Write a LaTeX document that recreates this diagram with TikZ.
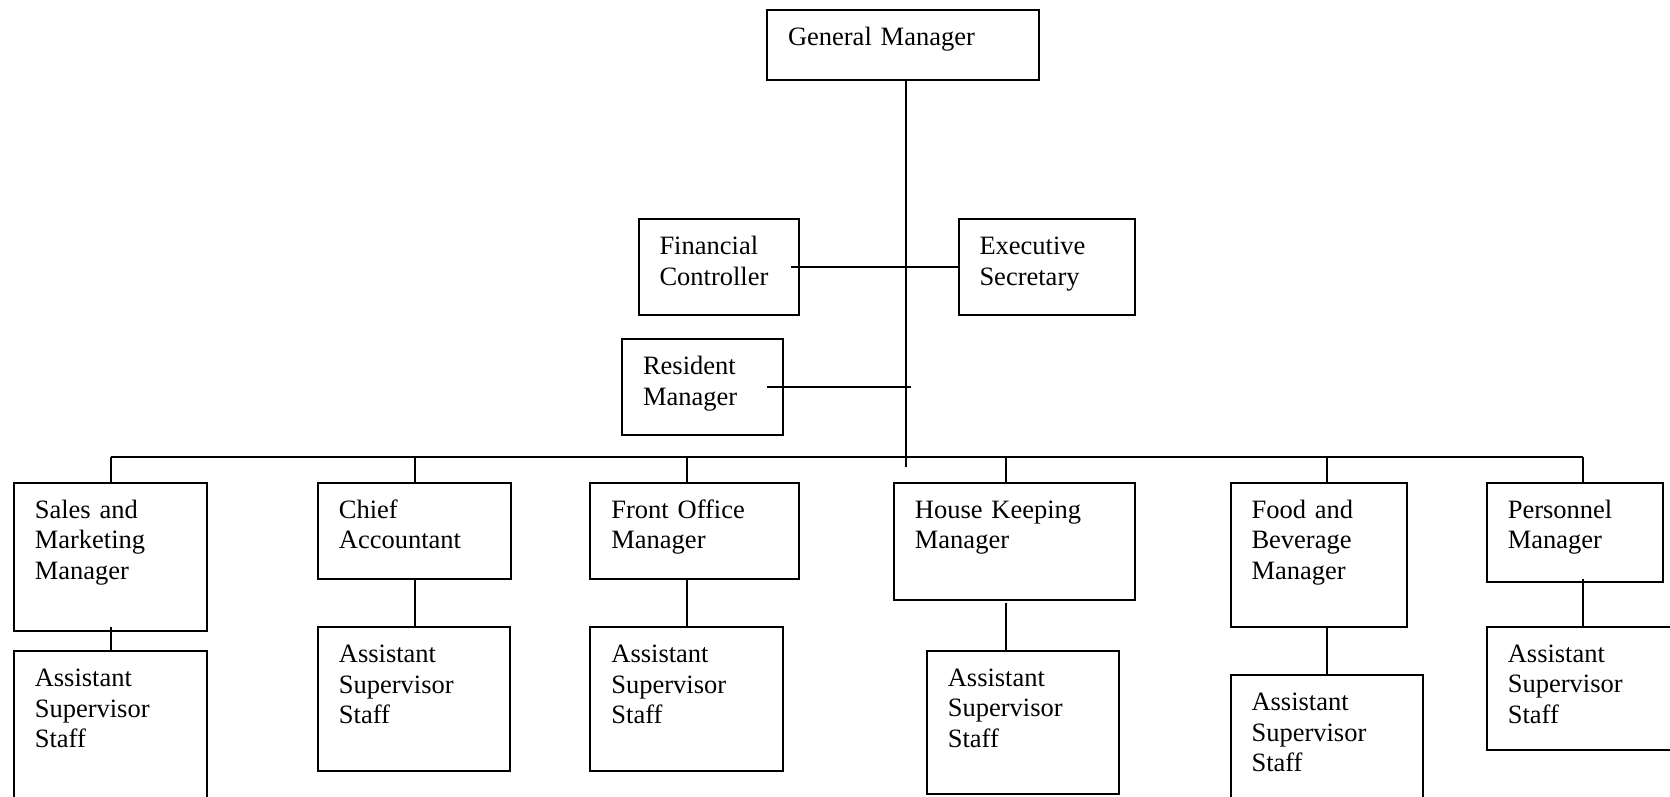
\documentclass[tikz,border=0pt]{standalone}
\usepackage{fontspec}
\setmainfont{Liberation Serif}
\begin{document}
\begin{tikzpicture}[x=1pt,y=-1pt,
  box/.style={draw, line width=2pt, anchor=north west, inner sep=0pt, outer sep=0pt},
  txt/.style={anchor=base west, inner sep=0pt, outer sep=0pt, text width=230pt, align=left,
    font=\fontsize{26.5}{30.5}\selectfont, xshift=21pt, yshift=-35.5pt},
  conn/.style={line width=2pt}]
\useasboundingbox (0,0) rectangle (1670,796);
\fill[white] (0,0) rectangle (1670,796);
\clip (0,0) rectangle (1670,796);
% boxes
\node[box, minimum width=272pt, minimum height=70.5pt] (gm) at (767,9.5) {};
\node[box, minimum width=160pt, minimum height=96pt] (fc) at (638.5,219) {};
\node[box, minimum width=176.5pt, minimum height=96pt] (es) at (958.5,219) {};
\node[box, minimum width=161pt, minimum height=96pt] (rm) at (622,339) {};
\node[box, minimum width=193.2pt, minimum height=148pt] (sales) at (13.8,482.7) {};
\node[box, minimum width=193.2pt, minimum height=170pt] (sales2) at (13.8,651) {};
\node[box, minimum width=193.5pt, minimum height=96.6pt] (ca) at (317.9,482.7) {};
\node[box, minimum width=192.5pt, minimum height=143.7pt] (ca2) at (317.9,627.3) {};
\node[box, minimum width=208.2pt, minimum height=96.6pt] (fo) at (590.4,482.7) {};
\node[box, minimum width=192.8pt, minimum height=143.7pt] (fo2) at (590.4,627.3) {};
\node[box, minimum width=241.1pt, minimum height=117.6pt] (hk) at (893.9,482.7) {};
\node[box, minimum width=192.1pt, minimum height=143.6pt] (hk2) at (926.8,650.7) {};
\node[box, minimum width=176pt, minimum height=144.6pt] (fb) at (1230.5,482.7) {};
\node[box, minimum width=192.2pt, minimum height=160pt] (fb2) at (1230.5,675) {};
\node[box, minimum width=176.2pt, minimum height=99.6pt] (pm) at (1486.8,482.7) {};
\node[box, minimum width=200pt, minimum height=123.6pt] (pm2) at (1486.8,626.7) {};
% texts
\node[txt] (gmt) at (gm.north west) {General Manager};
\node[txt] (fct) at (fc.north west) {Financial\\Controller};
\node[txt] (est) at (es.north west) {Executive\\Secretary};
\node[txt] (rmt) at (rm.north west) {Resident\\Manager};
\node[txt] (salest) at (sales.north west) {Sales and\\Marketing\\Manager};
\node[txt] (sales2t) at (sales2.north west) {Assistant\\Supervisor\\Staff};
\node[txt] (cat) at (ca.north west) {Chief\\Accountant};
\node[txt] (ca2t) at (ca2.north west) {Assistant\\Supervisor\\Staff};
\node[txt] (fot) at (fo.north west) {Front Office\\Manager};
\node[txt] (fo2t) at (fo2.north west) {Assistant\\Supervisor\\Staff};
\node[txt] (hkt) at (hk.north west) {House Keeping\\Manager};
\node[txt] (hk2t) at (hk2.north west) {Assistant\\Supervisor\\Staff};
\node[txt] (fbt) at (fb.north west) {Food and\\Beverage\\Manager};
\node[txt] (fb2t) at (fb2.north west) {Assistant\\Supervisor\\Staff};
\node[txt] (pmt) at (pm.north west) {Personnel\\Manager};
\node[txt] (pm2t) at (pm2.north west) {Assistant\\Supervisor\\Staff};
% coordinates
\coordinate (v) at (906,466.5);
\coordinate (rmend) at (911.4,387);
\coordinate (bl) at (110.5,456.7);
\coordinate (d2) at (414.6,456.7);
\coordinate (d3) at (686.8,456.7);
\coordinate (d4) at (1006.4,456.7);
\coordinate (d5) at (1326.8,456.7);
\coordinate (br) at (1583,456.7);
% connectors
\draw[conn] (gm.south -| v) -- (v);
\draw[conn] ([xshift=-8pt]fc.east) -- (es.west);
\draw[conn] ([xshift=-16.5pt]rm.east) -- (rmend);
\draw[conn] (bl) -- (br);
\draw[conn] (bl) -- (bl |- sales.north);
\draw[conn] (d2) -- (d2 |- ca.north);
\draw[conn] (d3) -- (d3 |- fo.north);
\draw[conn] (d4) -- (d4 |- hk.north);
\draw[conn] (d5) -- (d5 |- fb.north);
\draw[conn] (br) -- (br |- pm.north);
\draw[conn] ([yshift=4pt]bl |- sales.south) -- (bl |- sales2.north);
\draw[conn] (d2 |- ca.south) -- (d2 |- ca2.north);
\draw[conn] (d3 |- fo.south) -- (d3 |- fo2.north);
\draw[conn] ([yshift=-2.4pt]d4 |- hk.south) -- (d4 |- hk2.north);
\draw[conn] (d5 |- fb.south) -- (d5 |- fb2.north);
\draw[conn] ([yshift=3.3pt]br |- pm.south) -- (br |- pm2.north);
\end{tikzpicture}
\end{document}
